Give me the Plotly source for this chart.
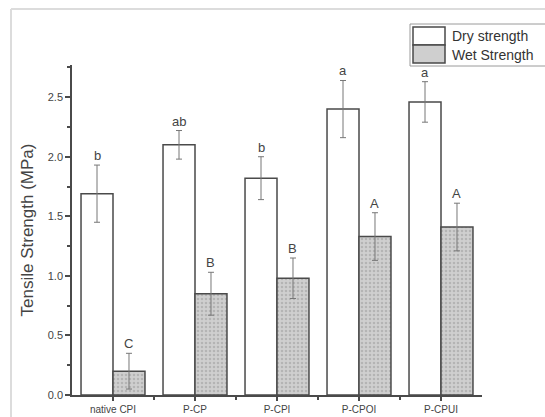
import plotly.graph_objects as go

categories = ["native CPI", "P-CP", "P-CPI", "P-CPOI", "P-CPUI"]
dry_strength = [1.69, 2.10, 1.82, 2.40, 2.46]
dry_error = [0.24, 0.12, 0.18, 0.24, 0.17]
dry_letters = ["b", "ab", "b", "a", "a"]
wet_strength = [0.20, 0.85, 0.98, 1.33, 1.41]
wet_error = [0.15, 0.18, 0.17, 0.20, 0.20]
wet_letters = ["C", "B", "B", "A", "A"]
series_names = ["Dry strength", "Wet Strength"]

W, H = 545, 417
ML, MR, MT, MB = 72, 63, 65, 22
PW, PH = W - ML - MR, H - MT - MB

def px(x):
    return (x - ML) / PW

def py(y):
    return (H - MB - y) / PH

BARGAP = 0.22
half = (1 - BARGAP) / 4
idx = list(range(len(categories)))

FONT = "Liberation Sans, Arial, sans-serif"
EDGE = "#4a4a4a"
WET_FILL = "#cfcfcf"

fig = go.Figure()
fig.add_trace(go.Bar(
    x=idx, y=dry_strength, name=series_names[0],
    marker=dict(color="white", line=dict(color=EDGE, width=1.5)),
    error_y=dict(type="data", array=dry_error, color="#777", thickness=1, width=3),
))
fig.add_trace(go.Bar(
    x=idx, y=wet_strength, name=series_names[1],
    marker=dict(color=WET_FILL, line=dict(color=EDGE, width=1.5),
                pattern=dict(shape=".", fgcolor="#9a9a9a", bgcolor=WET_FILL, size=4, solidity=0.35)),
    error_y=dict(type="data", array=wet_error, color="#777", thickness=1, width=3),
))

annotations = []
for i in idx:
    annotations.append(dict(x=i - half, y=dry_strength[i] + dry_error[i], text=dry_letters[i],
                            showarrow=False, yanchor="bottom", yshift=0,
                            font=dict(size=13, color="#444", family=FONT)))
    annotations.append(dict(x=i + half, y=wet_strength[i] + wet_error[i], text=wet_letters[i],
                            showarrow=False, yanchor="bottom", yshift=0,
                            font=dict(size=13, color="#444", family=FONT)))

# custom legend
annotations.append(dict(xref="paper", yref="paper", x=px(450), y=py(36), text=series_names[0],
                        showarrow=False, xanchor="left", yanchor="middle",
                        font=dict(size=14, color="#333", family=FONT)))
annotations.append(dict(xref="paper", yref="paper", x=px(450), y=py(55), text=series_names[1],
                        showarrow=False, xanchor="left", yanchor="middle",
                        font=dict(size=14, color="#333", family=FONT)))

shapes = [
    # outer frame (light gray)
    dict(type="line", xref="paper", yref="paper", x0=px(11), x1=px(11), y0=py(9), y1=py(420),
         line=dict(color="#dcdcdc", width=2)),
    dict(type="line", xref="paper", yref="paper", x0=px(11), x1=px(550), y0=py(9), y1=py(9),
         line=dict(color="#dcdcdc", width=2)),
    # legend box
    dict(type="rect", xref="paper", yref="paper", x0=px(410), x1=px(560), y0=py(24), y1=py(66),
         line=dict(color="#9a9a9a", width=1), fillcolor="white"),
    dict(type="rect", xref="paper", yref="paper", x0=px(413), x1=px(445), y0=py(27), y1=py(45),
         line=dict(color=EDGE, width=1.5), fillcolor="white"),
    dict(type="rect", xref="paper", yref="paper", x0=px(413), x1=px(445), y0=py(45), y1=py(63),
         line=dict(color=EDGE, width=1.5), fillcolor=WET_FILL),
]

fig.update_layout(
    width=W, height=H,
    margin=dict(l=ML, r=MR, t=MT, b=MB, pad=0, autoexpand=False),
    paper_bgcolor="white", plot_bgcolor="white",
    barmode="group", bargap=BARGAP, bargroupgap=0,
    showlegend=False,
    annotations=annotations, shapes=shapes,
    font=dict(family=FONT, color="#444"),
)
fig.update_xaxes(
    range=[-0.5, 4.5], tickmode="array", tickvals=idx, ticktext=categories,
    showline=True, linecolor=EDGE, linewidth=1.5, showgrid=False, zeroline=False,
    ticks="outside", ticklen=4, tickcolor=EDGE, tickwidth=1.5, automargin=False,
    tickfont=dict(size=10, color="#444"), ticklabelstandoff=0,
    minor=dict(tickvals=[0.5, 1.5, 2.5, 3.5], ticks="outside", ticklen=3, tickcolor=EDGE, showgrid=False),
)
fig.update_yaxes(
    range=[0, 2.77], dtick=0.5, tick0=0, tickformat=".1f", automargin=False,
    showline=True, linecolor=EDGE, linewidth=1.5, showgrid=False, zeroline=False,
    ticks="outside", ticklen=5, tickcolor=EDGE, tickwidth=1.5,
    tickfont=dict(size=11, color="#444"),
    minor=dict(dtick=0.25, ticks="outside", ticklen=3, tickcolor=EDGE, showgrid=False),
    title=dict(text="Tensile Strength (MPa)", font=dict(size=17, color="#444"), standoff=10),
)

fig.write_html("out.html", config={"displayModeBar": False},
               post_script="document.body.style.margin='0';document.body.style.overflow='hidden';")
